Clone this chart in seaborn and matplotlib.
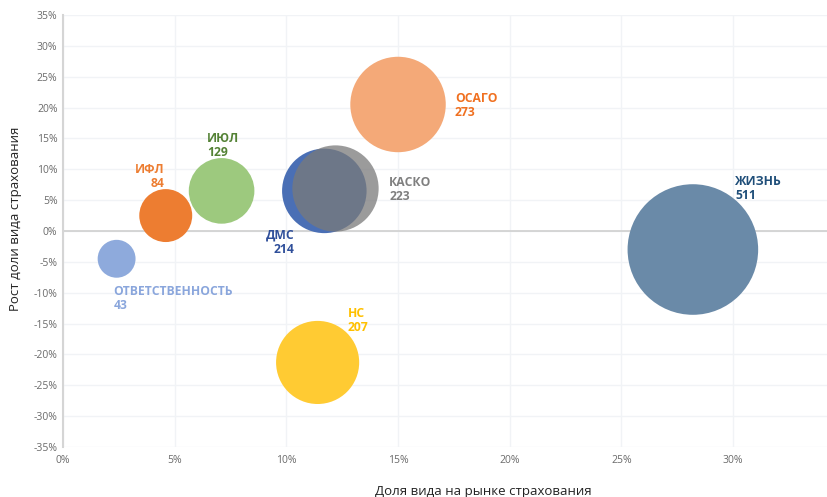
import matplotlib
matplotlib.use("Agg")
import matplotlib.pyplot as plt
import seaborn as sns
import pandas as pd
from matplotlib.ticker import FuncFormatter

# ---- data ----
categories = ["ОТВЕТСТВЕННОСТЬ", "ИФЛ", "ИЮЛ", "ДМС", "КАСКО", "ОСАГО", "ЖИЗНЬ", "НС"]
market_share = [2.4, 4.6, 7.1, 11.7, 12.2, 15.0, 28.2, 11.4]     # % of market
share_growth = [-4.5, 2.5, 6.5, 6.5, 7.0, 20.5, -3.0, -21.3]      # % growth
volume = [43, 84, 129, 214, 223, 273, 511, 207]

bubble_colors = ["#8eaadc", "#ed7d31", "#9dc97e", "#4a6fb5", "#7a7a7a",
                 "#f4a978", "#6a8aa8", "#ffcb33"]
label_colors = ["#8aa6dc", "#ed7d31", "#548235", "#2f4f9a", "#7f7f7f",
                "#f07020", "#1f4e79", "#ffc000"]

x_ticks = [0, 5, 10, 15, 20, 25, 30]
y_ticks = [-35, -30, -25, -20, -15, -10, -5, 0, 5, 10, 15, 20, 25, 30, 35]

df = pd.DataFrame({"cat": categories, "x": market_share, "y": share_growth, "v": volume})

sns.set_theme(style="white")
plt.rcParams["font.family"] = ["Open Sans", "DejaVu Sans"]

fig = plt.figure(figsize=(8.28, 4.97), dpi=100)
ax = fig.add_axes([63 / 828, 50 / 497, (828 - 63) / 828, (447 - 15) / 497])

ax.set_xlim(0, 34.25)
ax.set_ylim(-35, 35)

# grid
for t in x_ticks:
    ax.axvline(t, color="#f1f3f6", lw=1, zorder=0)
for t in y_ticks:
    ax.axhline(t, color="#f1f3f6", lw=1, zorder=0)
ax.axhline(0, color="#cfcfcf", lw=1.2, zorder=0.5)

palette = dict(zip(categories, bubble_colors))
size_kw = dict(size="v", sizes=(17.3 * 43, 17.3 * 511), size_norm=(43, 511))

sns.scatterplot(data=df[df["cat"].isin(["ОТВЕТСТВЕННОСТЬ", "ИФЛ", "ИЮЛ", "ДМС"])],
                x="x", y="y", hue="cat", palette=palette, linewidth=0,
                legend=False, ax=ax, zorder=2, **size_kw)
sns.scatterplot(data=df[df["cat"] == "КАСКО"], x="x", y="y", hue="cat",
                palette=palette, linewidth=0, alpha=0.75, legend=False, ax=ax,
                zorder=3, **size_kw)
sns.scatterplot(data=df[df["cat"].isin(["ОСАГО", "ЖИЗНЬ", "НС"])],
                x="x", y="y", hue="cat", palette=palette, linewidth=0,
                legend=False, ax=ax, zorder=2, **size_kw)

# labels: (x, y, ha) in data coords
label_pos = {
    "ОТВЕТСТВЕННОСТЬ": (2.25, -10.9, "left"),
    "ИФЛ": (4.55, 8.9, "right"),
    "ИЮЛ": (6.45, 13.9, "left"),
    "ДМС": (10.35, -1.8, "right"),
    "КАСКО": (14.6, 6.7, "left"),
    "ОСАГО": (17.55, 20.4, "left"),
    "ЖИЗНЬ": (30.1, 6.9, "left"),
    "НС": (12.75, -14.5, "left"),
}
for cat, vol, col in zip(categories, volume, label_colors):
    lx, ly, ha = label_pos[cat]
    ax.text(lx, ly, f"{cat}\n{vol}", color=col, fontsize=8.7, fontweight="bold",
            ha=ha, va="center", linespacing=1.1, zorder=5)

ax.set_xticks(x_ticks)
ax.set_yticks(y_ticks)
ax.xaxis.set_major_formatter(FuncFormatter(lambda v, p: f"{v:.0f}%"))
ax.yaxis.set_major_formatter(FuncFormatter(lambda v, p: f"{v:.0f}%"))
ax.tick_params(axis="both", labelsize=7.5, colors="#6b6b6b", length=0, pad=4)
ax.tick_params(axis="x", pad=6)

for s in ["top", "right", "bottom"]:
    ax.spines[s].set_visible(False)
ax.spines["left"].set_color("#d5d5d5")
ax.spines["left"].set_linewidth(1.5)

ax.set_xlabel("Доля вида на рынке страхования", fontsize=9.5, color="#222222")
ax.set_ylabel("Рост доли вида страхования", fontsize=9.5, color="#222222")
ax.xaxis.set_label_coords((483 - 63) / (828 - 63), -0.087)
ax.yaxis.set_label_coords(-0.053, (447 - 219) / 432)

fig.savefig("out.png", dpi=100)
